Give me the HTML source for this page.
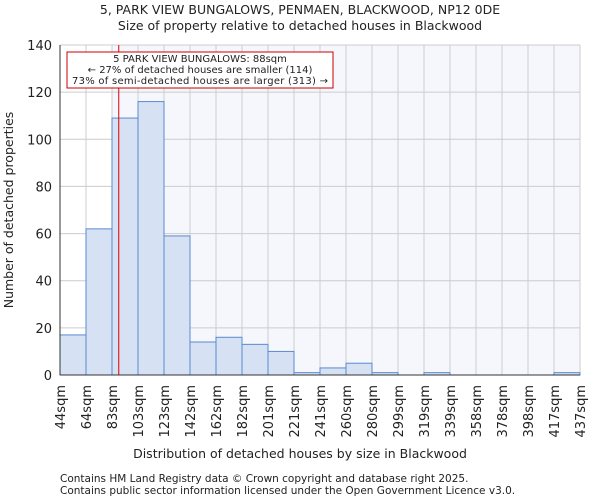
<!DOCTYPE html>
<html><head><meta charset="utf-8"><style>
body{margin:0;background:#fff;font-family:"DejaVu Sans","Liberation Sans",sans-serif}
svg text{font-family:"DejaVu Sans","Liberation Sans",sans-serif;fill:#222}
</style></head><body>
<svg id="c" width="600" height="500" xmlns="http://www.w3.org/2000/svg">
<text x="300" y="14" text-anchor="middle" font-size="12.5">5, PARK VIEW BUNGALOWS, PENMAEN, BLACKWOOD, NP12 0DE</text>
<text x="300" y="30" text-anchor="middle" font-size="12.5">Size of property relative to detached houses in Blackwood</text>
<g id="plot"></g>
<text x="300" y="458" text-anchor="middle" font-size="12.5">Distribution of detached houses by size in Blackwood</text>
<text transform="translate(13,210) rotate(-90)" text-anchor="middle" font-size="12.5">Number of detached properties</text>
<text x="60" y="482" font-size="10.5">Contains HM Land Registry data © Crown copyright and database right 2025.</text>
<text x="60" y="494" font-size="10.5">Contains public sector information licensed under the Open Government Licence v3.0.</text>
</svg>
<script>
const categories=["44sqm","64sqm","83sqm","103sqm","123sqm","142sqm","162sqm","182sqm","201sqm","221sqm","241sqm","260sqm","280sqm","299sqm","319sqm","339sqm","358sqm","378sqm","398sqm","417sqm","437sqm"];
const counts=[17,62,109,116,59,14,16,13,10,1,3,5,1,0,1,0,0,0,0,1];
const yTicks=[0,20,40,60,80,100,120,140];
const markerIndex=2.26;
const NS="http://www.w3.org/2000/svg";
const L=60,R=580,T=45,B=375,yMax=140;
const nb=counts.length,bw=(R-L)/nb;
const xs=i=>L+i*bw, ys=v=>B-v/yMax*(B-T);
const g=document.getElementById('plot');
function mk(t,a){const e=document.createElementNS(NS,t);for(const k in a)e.setAttribute(k,a[k]);g.appendChild(e);return e;}
let e=mk('rect',{x:L,y:T,width:R-L,height:B-T,fill:'#fff'});


e=mk('rect',{x:xs(2),y:T,width:R-xs(2),height:B-T,fill:'#f5f7fd'});


for(let i=0;i<=nb;i++){e=mk('line',{x1:xs(i),x2:xs(i),y1:T,y2:B,stroke:'#ccc','stroke-width':1});

}
yTicks.forEach(v=>{e=mk('line',{x1:L,x2:R,y1:ys(v),y2:ys(v),stroke:'#ccc','stroke-width':1});


e=mk('text',{x:L-8,y:ys(v)+5,'text-anchor':'end','font-size':13});e.textContent=v;

});
counts.forEach((v,i)=>{e=mk('rect',{x:xs(i),y:ys(v),width:bw,height:B-ys(v),fill:'#d6e1f3',stroke:'#5a8ad0','stroke-width':1});

});
categories.forEach((c,i)=>{e=mk('text',{transform:`translate(${xs(i)+5},385) rotate(-90)`,'text-anchor':'end','font-size':13});e.textContent=c;

});
e=mk('line',{x1:L,x2:R,y1:B,y2:B,stroke:'#333'});


e=mk('line',{x1:L,x2:L,y1:T,y2:B,stroke:'#333'});


const mx=xs(markerIndex);
e=mk('line',{x1:mx,x2:mx,y1:T,y2:B,stroke:'#d00','stroke-width':1});


e=mk('rect',{x:67,y:52,width:266,height:36,fill:'#fff',stroke:'#c00','stroke-width':1});


["5 PARK VIEW BUNGALOWS: 88sqm","← 27% of detached houses are smaller (114)","73% of semi-detached houses are larger (313) →"].forEach((t,i)=>{
e=mk('text',{x:200,y:62+i*11,'text-anchor':'middle','font-size':10,'textLength':i==2?256:null});e.textContent=t;
if(i!=2)e.removeAttribute('textLength');

});
</script>
</body></html>
